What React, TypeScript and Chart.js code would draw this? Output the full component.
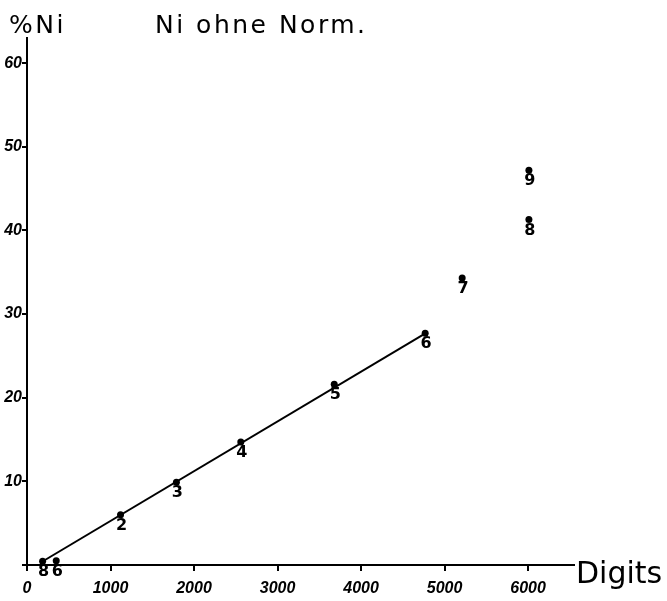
import React, { useEffect, useRef } from "react";
import { Chart, registerables } from "chart.js";

Chart.register(...registerables);

// Measured points (Digits vs %Ni) with their hand-written numbers
const pointDigits = [187, 350, 1120, 1789, 2560, 3679, 4768, 5211, 6010, 6010];
const pointNi = [0.45, 0.5, 6.0, 9.9, 14.7, 21.6, 27.7, 34.3, 41.3, 47.2];
const pointLabels = ["8", "6", "2", "3", "4", "5", "6", "7", "8", "9"];

// Straight calibration line
const lineDigits = [190, 4770];
const lineNi = [0.45, 27.7];

// Axes
const xMin = 0;
const xMax = 6550;
const xTicks = [0, 1000, 2000, 3000, 4000, 5000, 6000];
const yMin = 0;
const yMax = 63;
const yTicks = [0, 10, 20, 30, 40, 50, 60];

const titleText = "Ni ohne Norm.";
const yAxisText = "%Ni";
const xAxisText = "Digits";

const textPlugin = {
  id: "handTexts",
  afterDatasetsDraw(chart: any) {
    const ctx = chart.ctx;
    const meta = chart.getDatasetMeta(1);
    ctx.save();
    ctx.fillStyle = "#000";
    ctx.font = "bold 16px 'DejaVu Sans', sans-serif";
    ctx.textAlign = "center";
    ctx.textBaseline = "top";
    meta.data.forEach((el: any, i: number) => {
      ctx.fillText(pointLabels[i], el.x + 1, el.y + 3);
    });
    ctx.textAlign = "left";
    ctx.textBaseline = "alphabetic";
    ctx.font = "25px 'DejaVu Sans', sans-serif";
    (ctx as any).letterSpacing = "2.5px";
    ctx.fillText(yAxisText, 9, 33);
    ctx.fillText(titleText, 155, 33);
    (ctx as any).letterSpacing = "0px";
    ctx.font = "30px 'DejaVu Sans', sans-serif";
    ctx.fillText(xAxisText, 576, 583);
    ctx.restore();
  },
};

export default function App() {
  const ref = useRef<HTMLCanvasElement>(null);
  useEffect(() => {
    if (!ref.current) return;
    const tickFont = { family: "'Liberation Sans', Arial, sans-serif", size: 16, style: "italic" as const, weight: "bold" as const };
    const chart = new Chart(ref.current, {
      type: "scatter",
      data: {
        datasets: [
          {
            type: "line",
            data: lineDigits.map((x, i) => ({ x, y: lineNi[i] })),
            borderColor: "#000",
            borderWidth: 2,
            pointRadius: 0,
            fill: false,
          } as any,
          {
            type: "scatter",
            data: pointDigits.map((x, i) => ({ x, y: pointNi[i] })),
            backgroundColor: "#000",
            borderColor: "#000",
            pointRadius: 3.5,
            pointBorderWidth: 0,
          },
        ],
      },
      options: {
        responsive: false,
        animation: false,
        layout: { padding: { top: 38, right: 93, bottom: 0, left: 0 } },
        plugins: { legend: { display: false }, tooltip: { enabled: false }, title: { display: false } },
        scales: {
          x: {
            type: "linear",
            min: xMin,
            max: xMax,
            afterBuildTicks: (s: any) => { s.ticks = xTicks.map((v) => ({ value: v })); },
            afterFit: (s: any) => { s.height = 36; },
            border: { display: true, color: "#000", width: 2 },
            grid: { drawOnChartArea: false, drawTicks: true, tickLength: 6, color: "#000", lineWidth: 2 },
            ticks: {
              autoSkip: false,
              color: "#000",
              font: tickFont,
              padding: 8,
              maxRotation: 0,
              callback: (v: any) => String(v),
            },
          },
          y: {
            type: "linear",
            min: yMin,
            max: yMax,
            afterBuildTicks: (s: any) => { s.ticks = yTicks.map((v) => ({ value: v })); },
            afterFit: (s: any) => { s.width = 27; },
            border: { display: true, color: "#000", width: 2 },
            grid: { drawOnChartArea: false, drawTicks: true, tickLength: 5, color: "#000", lineWidth: 2 },
            ticks: {
              autoSkip: false,
              color: "#000",
              font: tickFont,
              padding: 0,
              callback: (v: any) => (v === 0 ? "" : String(v)),
            },
          },
        },
      } as any,
      plugins: [textPlugin],
    });
    return () => chart.destroy();
  }, []);
  return (
    <div style={{ position: "absolute", left: 0, top: 0, width: 667, height: 601, background: "#fff" }}>
      <canvas ref={ref} width={667} height={601} style={{ display: "block" }} />
    </div>
  );
}
